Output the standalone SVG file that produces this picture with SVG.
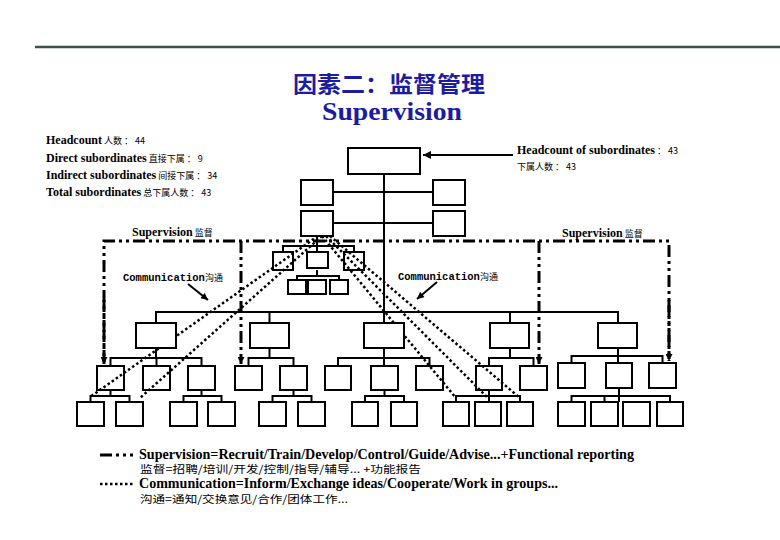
<svg xmlns="http://www.w3.org/2000/svg" width="780" height="540" viewBox="0 0 780 540">
<defs>
<style>
.box{fill:#fff;stroke:#000;stroke-width:2}
.tree{stroke:#000;stroke-width:2;fill:none}
.sup{stroke:#000;stroke-width:3;stroke-dasharray:12 4 3 4 3 4;fill:none}
.com{stroke:#000;stroke-width:2.5;stroke-dasharray:2.5 2.5;fill:none}
.ptr{stroke:#000;stroke-width:2;fill:none}
.en{font-family:"Liberation Serif","Noto Sans CJK SC",serif;font-weight:bold;font-size:12px;fill:#000}
.zh{font-family:"Noto Sans CJK SC",sans-serif;font-weight:normal;font-size:9px;fill:#000}
.mono{font-family:"Liberation Mono","Noto Sans CJK SC",monospace;font-weight:bold;font-size:10.5px;fill:#000}
.leg{font-family:"Liberation Serif","Noto Sans CJK SC",serif;font-weight:bold;font-size:14px;fill:#000}
.legzh{font-family:"Noto Sans CJK SC",sans-serif;font-size:10.5px;fill:#000}
</style>
<marker id="ah" viewBox="0 0 10 10" refX="10" refY="5" markerUnits="userSpaceOnUse" markerWidth="10" markerHeight="8" orient="auto">
<path d="M0,0 L10,5 L0,10 Z" fill="#000"/>
</marker>
<marker id="ahs" viewBox="0 0 10 10" refX="10" refY="5" markerUnits="userSpaceOnUse" markerWidth="8" markerHeight="7" orient="auto">
<path d="M0,0 L10,5 L0,10 Z" fill="#000"/>
</marker>
</defs>

<rect width="780" height="540" fill="#fff"/>
<line x1="35" y1="47" x2="780" y2="47" stroke="#3a524e" stroke-width="2.5"/>

<g id="title">
<text x="389" y="92" text-anchor="middle" font-family="Noto Sans CJK SC, sans-serif" font-weight="bold" font-size="22" fill="#1c1ca0" textLength="192" lengthAdjust="spacingAndGlyphs">因素二：监督管理</text>
<text x="392" y="120" text-anchor="middle" font-family="Liberation Serif, serif" font-weight="bold" font-size="26" fill="#1c1ca0" textLength="140" lengthAdjust="spacingAndGlyphs">Supervision</text>
</g>

<g id="stats">
<text x="46" y="144"><tspan class="en">Headcount</tspan><tspan class="zh"> 人数 ： 44</tspan></text>
<text x="46" y="162"><tspan class="en">Direct subordinates</tspan><tspan class="zh"> 直接下属 ： 9</tspan></text>
<text x="46" y="179"><tspan class="en">Indirect subordinates</tspan><tspan class="zh"> 间接下属 ： 34</tspan></text>
<text x="46" y="196"><tspan class="en">Total subordinates</tspan><tspan class="zh"> 总下属人数 ： 43</tspan></text>
<text x="517" y="154"><tspan class="en">Headcount of subordinates</tspan><tspan class="zh"> ： 43</tspan></text>
<text x="517" y="170" class="zh">下属人数 ： 43</text>
</g>

<g id="labels">
<text x="132" y="236"><tspan class="en">Supervision</tspan><tspan class="zh"> 监督</tspan></text>
<text x="562" y="237"><tspan class="en">Supervision</tspan><tspan class="zh"> 监督</tspan></text>
<text x="123" y="281"><tspan class="mono">Communication</tspan><tspan class="zh">沟通</tspan></text>
<text x="398" y="280"><tspan class="mono">Communication</tspan><tspan class="zh">沟通</tspan></text>
</g>

<g id="connectors">
<line class="tree" x1="384" y1="174" x2="384" y2="323"/>
<line class="tree" x1="333" y1="192" x2="433" y2="192"/>
<line class="tree" x1="333" y1="223" x2="433" y2="223"/>
<path class="tree" d="M317,236 V252 M283,252 V246 H354 V252 M317,270 V276 M297,280 V276 H339 V280"/>
<path class="tree" d="M156,323 V312 H618 V323 M269.5,312 V323 M510,312 V323"/>
<path class="tree" d="M156,348 V358 M110.5,366 V358 H201.5 V366 M156.5,358 V366"/>
<path class="tree" d="M269.5,348 V358 M248.5,366 V358 H293.5 V366"/>
<path class="tree" d="M384,348 V366 M338,366 V358 H429.5 V366"/>
<path class="tree" d="M510,348 V358 M489,366 V358 H533.5 V366"/>
<path class="tree" d="M618,348 V363 M571.5,363 V356 H662.5 V363"/>
<path class="tree" d="M110.5,390 V396 M90.5,402 V396 H129.5 V402"/>
<path class="tree" d="M201.5,390 V396 M183.5,402 V396 H221.5 V402"/>
<path class="tree" d="M293.5,390 V396 M272.5,402 V396 H311.5 V402"/>
<path class="tree" d="M384.5,390 V396 M365,402 V396 H404 V402"/>
<path class="tree" d="M489,390 V402 M456,402 V396 H520 V402"/>
<path class="tree" d="M619,388 V402 M571.5,402 V396 H670 V402 M604.5,396 V402"/>
<path class="sup" d="M104,362 V241 H669 V359"/>
<line class="sup" x1="104" y1="300" x2="104" y2="364" marker-end="url(#ahs)"/>
<line class="sup" x1="241" y1="241" x2="241" y2="364" marker-end="url(#ahs)"/>
<line class="sup" x1="539" y1="241" x2="539" y2="364" marker-end="url(#ahs)"/>
<line class="sup" x1="669" y1="300" x2="669" y2="361" marker-end="url(#ahs)"/>
<line class="com" x1="318" y1="236" x2="90" y2="397"/>
<line class="com" x1="322" y1="236" x2="140" y2="398"/>
<line class="com" x1="322" y1="236" x2="456" y2="398"/>
<line class="com" x1="326" y1="236" x2="488" y2="398"/>
<line class="com" x1="330" y1="236" x2="520" y2="398"/>
<line class="ptr" x1="513" y1="155" x2="423" y2="155" marker-end="url(#ah)"/>
<line class="ptr" x1="188" y1="284" x2="208" y2="300" marker-end="url(#ahs)"/>
<line class="ptr" x1="437" y1="282" x2="417" y2="299" marker-end="url(#ahs)"/>
</g>

<g id="top"><rect class="box" x="348" y="148" width="72" height="26"/></g>
<g id="s1"><rect class="box" x="301" y="180" width="32" height="25"/></g>
<g id="s2"><rect class="box" x="433" y="180" width="32" height="25"/></g>
<g id="s3"><rect class="box" x="301" y="211" width="32" height="25"/></g>
<g id="s4"><rect class="box" x="433" y="211" width="32" height="25"/></g>

<g id="m1"><rect class="box" x="273" y="252" width="20" height="18" fill-opacity="0"/></g>
<g id="m2"><rect class="box" x="307" y="252" width="21" height="16"/></g>
<g id="m3"><rect class="box" x="344" y="252" width="20" height="18" fill-opacity="0"/></g>
<g id="m4"><rect class="box" x="288" y="280" width="18" height="14"/></g>
<g id="m5"><rect class="box" x="308" y="280" width="18" height="14"/></g>
<g id="m6"><rect class="box" x="330" y="280" width="18" height="14"/></g>

<g id="b1"><rect class="box" x="136" y="323" width="40" height="25"/></g>
<g id="b2"><rect class="box" x="250" y="323" width="39" height="25"/></g>
<g id="b3"><rect class="box" x="364" y="323" width="40" height="25"/></g>
<g id="b4"><rect class="box" x="490" y="323" width="39" height="25"/></g>
<g id="b5"><rect class="box" x="598" y="323" width="39" height="25"/></g>

<g id="c1"><rect class="box" x="97" y="366" width="27" height="24" fill-opacity="0"/></g>
<g id="c2"><rect class="box" x="143" y="366" width="27" height="24" fill-opacity="0"/></g>
<g id="c3"><rect class="box" x="188" y="366" width="27" height="24"/></g>
<g id="c4"><rect class="box" x="235" y="366" width="27" height="24"/></g>
<g id="c5"><rect class="box" x="280" y="366" width="27" height="24"/></g>
<g id="c6"><rect class="box" x="325" y="366" width="26" height="24"/></g>
<g id="c7"><rect class="box" x="371" y="366" width="27" height="24"/></g>
<g id="c8"><rect class="box" x="416" y="366" width="27" height="24" fill-opacity="0"/></g>
<g id="c9"><rect class="box" x="476" y="366" width="26" height="24" fill-opacity="0"/></g>
<g id="c10"><rect class="box" x="520" y="366" width="27" height="24"/></g>
<g id="c11"><rect class="box" x="558" y="363" width="27" height="25"/></g>
<g id="c12"><rect class="box" x="606" y="363" width="26" height="25"/></g>
<g id="c13"><rect class="box" x="649" y="363" width="27" height="25"/></g>

<g id="d1"><rect class="box" x="77" y="402" width="27" height="24"/></g>
<g id="d2"><rect class="box" x="116" y="402" width="27" height="24"/></g>
<g id="d3"><rect class="box" x="170" y="402" width="27" height="24"/></g>
<g id="d4"><rect class="box" x="208" y="402" width="27" height="24"/></g>
<g id="d5"><rect class="box" x="259" y="402" width="27" height="24"/></g>
<g id="d6"><rect class="box" x="298" y="402" width="27" height="24"/></g>
<g id="d7"><rect class="box" x="352" y="402" width="26" height="24"/></g>
<g id="d8"><rect class="box" x="391" y="402" width="26" height="24"/></g>
<g id="d9"><rect class="box" x="443" y="402" width="26" height="24"/></g>
<g id="d10"><rect class="box" x="475" y="402" width="26" height="24"/></g>
<g id="d11"><rect class="box" x="507" y="402" width="26" height="24"/></g>
<g id="d12"><rect class="box" x="558" y="402" width="27" height="24"/></g>
<g id="d13"><rect class="box" x="591" y="402" width="27" height="24"/></g>
<g id="d14"><rect class="box" x="623" y="402" width="27" height="24"/></g>
<g id="d15"><rect class="box" x="657" y="402" width="26" height="24"/></g>

<g id="legend">
<line class="sup" x1="100" y1="455" x2="133" y2="455" stroke-dasharray="11 4 2 4 2 4 8 0"/>
<text x="139" y="459" class="leg" textLength="495" lengthAdjust="spacingAndGlyphs">Supervision=Recruit/Train/Develop/Control/Guide/Advise...+Functional reporting</text>
<text x="140" y="473" class="legzh" textLength="281" lengthAdjust="spacingAndGlyphs">监督=招聘/培训/开发/控制/指导/辅导... +功能报告</text>
<line class="com" x1="100" y1="484" x2="133" y2="484" stroke-dasharray="2 1.5" stroke-width="3"/>
<text x="139" y="488" class="leg" textLength="419" lengthAdjust="spacingAndGlyphs">Communication=Inform/Exchange ideas/Cooperate/Work in groups...</text>
<text x="140" y="503" class="legzh" textLength="208" lengthAdjust="spacingAndGlyphs">沟通=通知/交换意见/合作/团体工作...</text>
</g>
</svg>
